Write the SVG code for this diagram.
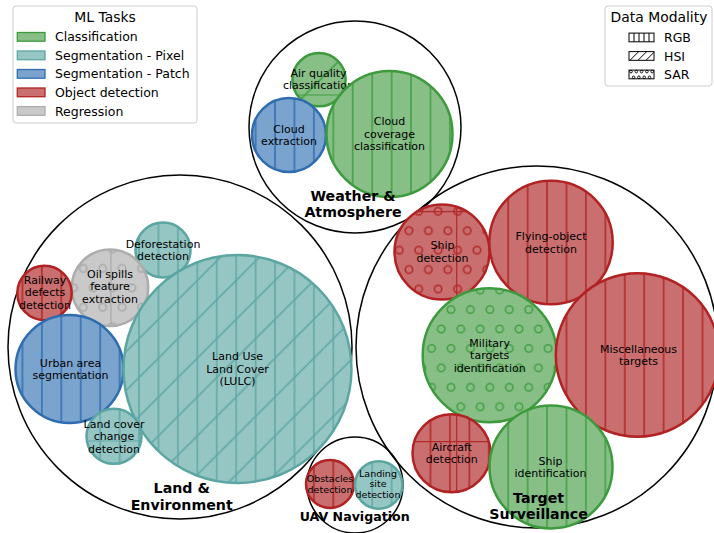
<svg xmlns="http://www.w3.org/2000/svg" width="714" height="533" viewBox="0 0 714 533">
<style>
.outer{fill:none;stroke:#000;stroke-width:1.5}
.fG{fill:#87bf87}.fT{fill:#96c6c4}.fB{fill:#7aa4ce}.fR{fill:#c96f6f}.fY{fill:#c9c9c9}
.eG{stroke:#3d9a3d;stroke-width:2.5}.eT{stroke:#5ca6a2;stroke-width:2.5}.eB{stroke:#2f6db0;stroke-width:2.5}.eR{stroke:#b22222;stroke-width:2.5}.eY{stroke:#adadad;stroke-width:2.5}
.seamG{stroke:#45a045;stroke-width:1.2}.seamR{stroke:#b22a2a;stroke-width:1.2}.seamT{stroke:#62a9a6;stroke-width:1.2}.seamY{stroke:#aaaaaa;stroke-width:1.2}
.lbl{font-family:"DejaVu Sans","Liberation Sans",sans-serif;font-size:11px;text-anchor:middle;fill:#000}
.lbls{font-size:9.5px}
.grp{font-family:"DejaVu Sans","Liberation Sans",sans-serif;font-weight:bold;font-size:14.2px;text-anchor:middle;fill:#000}
.leg{font-family:"DejaVu Sans","Liberation Sans",sans-serif;font-size:12.5px;fill:#000}
.legt{font-family:"DejaVu Sans","Liberation Sans",sans-serif;font-size:13.9px;fill:#000;text-anchor:middle}
.box{fill:#fff;fill-opacity:0.8;stroke:#cccccc;stroke-width:1}
.mp{fill:#fff;stroke:#000;stroke-width:1}
</style>
<defs>
<pattern id="vG" patternUnits="userSpaceOnUse" x="-6.7" y="0" width="19.43" height="19.43"><line x1="9.715" y1="-1" x2="9.715" y2="20.5" stroke="#45a045" stroke-width="1.6"/></pattern>
<pattern id="vT" patternUnits="userSpaceOnUse" x="-6.7" y="0" width="19.43" height="19.43"><line x1="9.715" y1="-1" x2="9.715" y2="20.5" stroke="#62a9a6" stroke-width="1.6"/></pattern>
<pattern id="vB" patternUnits="userSpaceOnUse" x="-6.7" y="0" width="19.43" height="19.43"><line x1="9.715" y1="-1" x2="9.715" y2="20.5" stroke="#3570b2" stroke-width="1.6"/></pattern>
<pattern id="vR" patternUnits="userSpaceOnUse" x="-6.7" y="0" width="19.43" height="19.43"><line x1="9.715" y1="-1" x2="9.715" y2="20.5" stroke="#b22a2a" stroke-width="1.6"/></pattern>
<pattern id="dG" patternUnits="userSpaceOnUse" x="11.4" y="0" width="38.86" height="38.86"><path d="M-2,2L2,-2M0,38.86L38.86,0M36.86,40.86L40.86,36.86" stroke="#45a045" stroke-width="1.6" fill="none"/></pattern>
<pattern id="dT" patternUnits="userSpaceOnUse" x="11.4" y="0" width="38.86" height="38.86"><path d="M-2,2L2,-2M0,38.86L38.86,0M36.86,40.86L40.86,36.86" stroke="#62a9a6" stroke-width="1.6" fill="none"/></pattern>
<pattern id="oR" patternUnits="userSpaceOnUse" x="409" y="230.7" width="19.43" height="38.86"><g fill="none" stroke="#b22a2a" stroke-width="1.6"><circle cx="0" cy="0" r="3.7"/><circle cx="19.43" cy="0" r="3.7"/><circle cx="0" cy="38.86" r="3.7"/><circle cx="19.43" cy="38.86" r="3.7"/><circle cx="9.715" cy="19.43" r="3.7"/></g></pattern>
<pattern id="oG" patternUnits="userSpaceOnUse" x="441.3" y="329" width="19.43" height="38.86"><g fill="none" stroke="#45a045" stroke-width="1.6"><circle cx="0" cy="0" r="3.7"/><circle cx="19.43" cy="0" r="3.7"/><circle cx="0" cy="38.86" r="3.7"/><circle cx="19.43" cy="38.86" r="3.7"/><circle cx="9.715" cy="19.43" r="3.7"/></g></pattern>
<pattern id="oY" patternUnits="userSpaceOnUse" x="83.3" y="307.3" width="19.43" height="38.86"><g fill="none" stroke="#aaaaaa" stroke-width="1.6"><circle cx="0" cy="0" r="3.7"/><circle cx="19.43" cy="0" r="3.7"/><circle cx="0" cy="38.86" r="3.7"/><circle cx="19.43" cy="38.86" r="3.7"/><circle cx="9.715" cy="19.43" r="3.7"/></g></pattern>
</defs>
<rect width="714" height="533" fill="#fff"/>

<g id="groups">
<circle class="outer" cx="355" cy="127" r="106"/>
<circle class="outer" cx="180" cy="347" r="172"/>
<circle class="outer" cx="537" cy="347" r="181"/>
<circle class="outer" cx="355" cy="485" r="48"/>
</g>

<g id="connectors"></g>

<g id="air-quality">
<circle class="fG" cx="319" cy="79.7" r="26.6"/>
<line class="seamG" x1="297.2" y1="95" x2="340.8" y2="95"/>
<circle class="eG" fill="url(#dG)" cx="319" cy="79.7" r="26.6"/>
<text class="lbl" x="318.5" y="76.8">Air quality</text>
<text class="lbl" x="318.5" y="89.4">classification</text>
</g>
<g id="cloud-extraction">
<circle class="fB" cx="289" cy="135" r="37"/>
<circle class="eB" fill="url(#vB)" cx="289" cy="135" r="37"/>
<text class="lbl" x="289" y="132.5">Cloud</text>
<text class="lbl" x="289" y="145.1">extraction</text>
</g>
<g id="cloud-coverage">
<circle class="fG" cx="389.5" cy="134" r="63"/>
<circle class="eG" fill="url(#vG)" cx="389.5" cy="134" r="63"/>
<text class="lbl" x="389.5" y="125.2">Cloud</text>
<text class="lbl" x="389.5" y="137.8">coverage</text>
<text class="lbl" x="389.5" y="150.4">classification</text>
</g>

<g id="deforestation">
<circle class="fT" cx="163" cy="250" r="27.5"/>
<circle class="eT" fill="url(#vT)" cx="163" cy="250" r="27.5"/>
<text class="lbl" x="163" y="247.5">Deforestation</text>
<text class="lbl" x="163" y="260.1">detection</text>
</g>
<g id="oil-spills">
<circle class="fY" cx="110" cy="287.7" r="38.3"/>
<line class="seamY" x1="111" y1="249.5" x2="111" y2="325.9"/>
<circle class="eY" fill="url(#oY)" cx="110" cy="287.7" r="38.3"/>
<text class="lbl" x="110" y="277.8">Oil spills</text>
<text class="lbl" x="110" y="290.3">feature</text>
<text class="lbl" x="110" y="302.8">extraction</text>
</g>
<g id="railway">
<circle class="fR" cx="44.5" cy="293" r="27.2"/>
<circle class="eR" fill="url(#vR)" cx="44.5" cy="293" r="27.2"/>
<text class="lbl" x="45" y="284">Railway</text>
<text class="lbl" x="45" y="296.4">defects</text>
<text class="lbl" x="45" y="308.8">detection</text>
</g>
<g id="urban">
<circle class="fB" cx="69.5" cy="369" r="54"/>
<circle class="eB" fill="url(#vB)" cx="69.5" cy="369" r="54"/>
<text class="lbl" x="70.5" y="366.5">Urban area</text>
<text class="lbl" x="70.5" y="379.1">segmentation</text>
</g>
<g id="lulc">
<circle class="fT" cx="237.5" cy="369" r="114"/>
<circle fill="url(#vT)" cx="237.5" cy="369" r="114"/>
<circle class="eT" fill="url(#dT)" cx="237.5" cy="369" r="114"/>
<text class="lbl" x="237.5" y="360.2">Land Use</text>
<text class="lbl" x="237.5" y="372.8">Land Cover</text>
<text class="lbl" x="237.5" y="385.4">(LULC)</text>
</g>
<g id="land-cover-change">
<circle class="fT" cx="114" cy="436.3" r="27.5"/>
<line class="seamT" x1="86.9" y1="441" x2="141.1" y2="441"/>
<circle class="eT" fill="url(#vT)" cx="114" cy="436.3" r="27.5"/>
<text class="lbl" x="114" y="427.5">Land cover</text>
<text class="lbl" x="114" y="440.1">change</text>
<text class="lbl" x="114" y="452.7">detection</text>
</g>

<g id="obstacles">
<circle class="fR" cx="330" cy="484" r="24"/>
<circle class="eR" fill="url(#vR)" cx="330" cy="484" r="24"/>
<text class="lbl lbls" x="330" y="482.2">Obstacles</text>
<text class="lbl lbls" x="330" y="492.8">detection</text>
</g>
<g id="landing-site">
<circle class="fT" cx="378.7" cy="485" r="23.7"/>
<circle class="eT" fill="url(#vT)" cx="378.7" cy="485" r="23.7"/>
<text class="lbl lbls" x="378" y="476.6">Landing</text>
<text class="lbl lbls" x="378" y="487.1">site</text>
<text class="lbl lbls" x="378" y="497.6">detection</text>
</g>

<g id="ship-detection">
<circle class="fR" cx="442" cy="252" r="47.5"/>
<line class="seamR" x1="416.9" y1="211.7" x2="467.1" y2="211.7"/>
<line class="seamR" x1="456.7" y1="206.8" x2="456.7" y2="297.2"/>
<circle class="eR" fill="url(#oR)" cx="442" cy="252" r="47.5"/>
<text class="lbl" x="442.5" y="249">Ship</text>
<text class="lbl" x="442.5" y="261.6">detection</text>
</g>
<g id="flying-object">
<circle class="fR" cx="551" cy="242.5" r="61.7"/>
<circle class="eR" fill="url(#vR)" cx="551" cy="242.5" r="61.7"/>
<text class="lbl" x="551" y="240">Flying-object</text>
<text class="lbl" x="551" y="252.6">detection</text>
</g>
<g id="military">
<circle class="fG" cx="489.7" cy="355.3" r="67"/>
<circle class="eG" fill="url(#oG)" cx="489.7" cy="355.3" r="67"/>
<text class="lbl" x="489.7" y="346.5">Military</text>
<text class="lbl" x="489.7" y="359.1">targets</text>
<text class="lbl" x="489.7" y="371.7">identification</text>
</g>
<g id="misc">
<circle class="fR" cx="637.5" cy="355" r="81.7"/>
<circle class="eR" fill="url(#vR)" cx="637.5" cy="355" r="81.7"/>
<text class="lbl" x="638.5" y="352.5">Miscellaneous</text>
<text class="lbl" x="638.5" y="365.1">targets</text>
</g>
<g id="aircraft">
<circle class="fR" cx="451.5" cy="453.3" r="39"/>
<line class="seamR" x1="414.3" y1="441.7" x2="488.7" y2="441.7"/>
<line class="seamR" x1="456.7" y1="414.7" x2="456.7" y2="492"/>
<circle class="eR" fill="url(#vR)" cx="451.5" cy="453.3" r="39"/>
<text class="lbl" x="451.8" y="450.8">Aircraft</text>
<text class="lbl" x="451.8" y="463.4">detection</text>
</g>
<g id="ship-identification">
<circle class="fG" cx="551" cy="467" r="61.5"/>
<circle class="eG" fill="url(#vG)" cx="551" cy="467" r="61.5"/>
<text class="lbl" x="550.5" y="464.5">Ship</text>
<text class="lbl" x="550.5" y="477.1">identification</text>
</g>

<g id="group-labels">
<text class="grp" x="353" y="201">Weather &amp;</text>
<text class="grp" x="353" y="217">Atmosphere</text>
<text class="grp" x="181.7" y="493.3">Land &amp;</text>
<text class="grp" x="181.7" y="509.5">Environment</text>
<text class="grp" x="538.6" y="502.5">Target</text>
<text class="grp" x="538.6" y="518.5">Surveillance</text>
<text class="grp" x="354.7" y="520.7" style="font-size:12.6px">UAV Navigation</text>
</g>

<g id="legend-tasks">
<rect class="box" x="13" y="6" width="184" height="117" rx="3"/>
<text class="legt" x="105" y="21.5">ML Tasks</text>
<rect class="fG" stroke="#3d9a3d" stroke-width="1.3" x="17.3" y="32.5" width="27.7" height="8.7"/>
<text class="leg" x="55" y="41.4">Classification</text>
<rect class="fT" stroke="#5ca6a2" stroke-width="1.3" x="17.3" y="51" width="27.7" height="8.7"/>
<text class="leg" x="55" y="59.9">Segmentation - Pixel</text>
<rect class="fB" stroke="#2f6db0" stroke-width="1.3" x="17.3" y="69.5" width="27.7" height="8.7"/>
<text class="leg" x="55" y="78.4">Segmentation - Patch</text>
<rect class="fR" stroke="#b22222" stroke-width="1.3" x="17.3" y="88" width="27.7" height="8.7"/>
<text class="leg" x="55" y="96.9">Object detection</text>
<rect class="fY" stroke="#adadad" stroke-width="1.3" x="17.3" y="106.6" width="27.7" height="8.7"/>
<text class="leg" x="55" y="115.5">Regression</text>
</g>

<g id="legend-modality">
<rect class="box" x="605" y="6" width="107" height="80" rx="3"/>
<text class="legt" x="659" y="21.5">Data Modality</text>
<rect class="mp" x="629" y="33.1" width="25" height="8.7"/>
<path d="M634,33.1V41.8M639,33.1V41.8M644,33.1V41.8M649,33.1V41.8" stroke="#000" stroke-width="1"/>
<text class="leg" x="664" y="42">RGB</text>
<rect class="mp" x="629" y="51.6" width="25" height="8.7"/>
<path d="M630,60.3L638.7,51.6M638,60.3L646.7,51.6M646,60.3L654,52.3" stroke="#000" stroke-width="1"/>
<text class="leg" x="664" y="60.5">HSI</text>
<rect class="mp" x="629" y="70.1" width="25" height="8.7"/>
<g fill="none" stroke="#000" stroke-width="0.9"><circle cx="631" cy="71.6" r="1.3"/><circle cx="636.3" cy="71.6" r="1.3"/><circle cx="641.6" cy="71.6" r="1.3"/><circle cx="646.9" cy="71.6" r="1.3"/><circle cx="652.2" cy="71.6" r="1.3"/><circle cx="633.6" cy="77.3" r="1.3"/><circle cx="638.9" cy="77.3" r="1.3"/><circle cx="644.2" cy="77.3" r="1.3"/><circle cx="649.5" cy="77.3" r="1.3"/></g>
<text class="leg" x="664" y="79">SAR</text>
</g>
</svg>
